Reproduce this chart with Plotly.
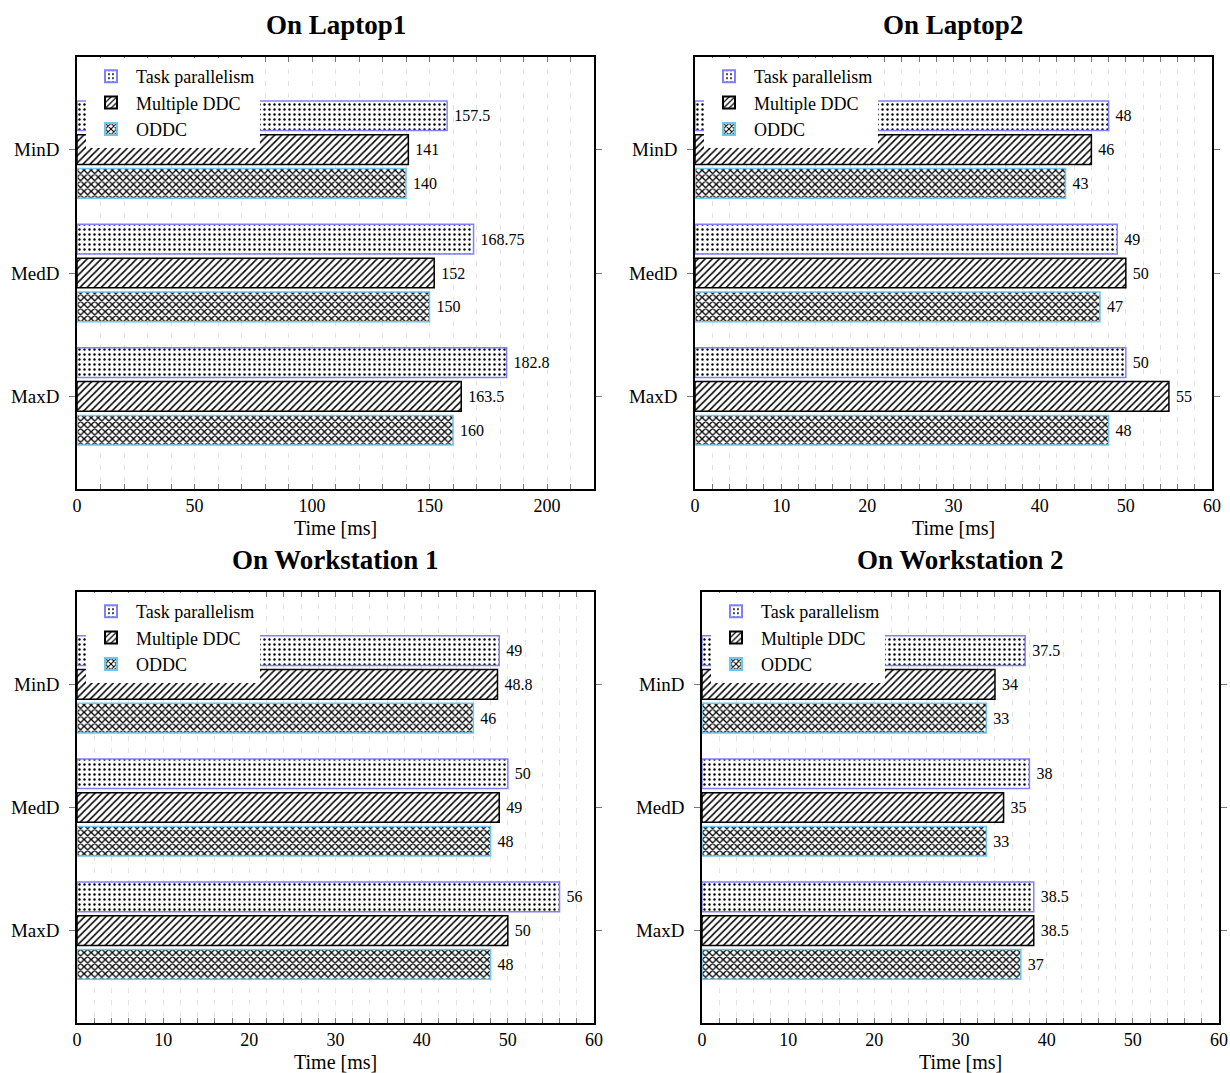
import plotly.graph_objects as go

categories = ["MinD", "MedD", "MaxD"]
series_names = ["Task parallelism", "Multiple DDC", "ODDC"]

titles = ["On Laptop1", "On Laptop2", "On Workstation 1", "On Workstation 2"]

laptop1_tp = [157.5, 168.75, 182.8]
laptop1_mddc = [141, 152, 163.5]
laptop1_oddc = [140, 150, 160]

laptop2_tp = [48, 49, 50]
laptop2_mddc = [46, 50, 55]
laptop2_oddc = [43, 47, 48]

ws1_tp = [49, 50, 56]
ws1_mddc = [48.8, 49, 50]
ws1_oddc = [46, 48, 48]

ws2_tp = [37.5, 38, 38.5]
ws2_mddc = [34, 35, 38.5]
ws2_oddc = [33, 33, 37]

panels = [
    (laptop1_tp, laptop1_mddc, laptop1_oddc),
    (laptop2_tp, laptop2_mddc, laptop2_oddc),
    (ws1_tp, ws1_mddc, ws1_oddc),
    (ws2_tp, ws2_mddc, ws2_oddc),
]
x_ranges = [[0, 220], [0, 60], [0, 60], [0, 60]]
x_dticks = [50, 10, 10, 10]
x_minor = [10, 2, 2, 2]

W, H = 1230, 1073
FONT = "Liberation Serif, serif"

# window-pixel boxes of the plot areas (left, right, top, bottom)
boxes = [(77, 594, 57, 489), (695, 1212, 57, 489), (77, 594, 592, 1023), (702, 1219, 592, 1023)]

styles = [
    dict(shape=".", size=5, solidity=0.18, line="#8080ff"),
    dict(shape="/", size=5, solidity=0.3, line="#000000"),
    dict(shape="x", size=5, solidity=0.45, line="#6cc6ee"),
]


def px(xp):
    return xp / W


def py(yp):
    return 1 - yp / H


fig = go.Figure()
annotations = []
for i, vals in enumerate(panels):
    sfx = "" if i == 0 else str(i + 1)
    leg = "legend" + sfx
    for j, v in enumerate(vals):
        st = styles[j]
        fig.add_trace(go.Bar(
            x=v, y=categories, orientation="h", name=series_names[j],
            xaxis="x" + sfx, yaxis="y" + sfx, legend=leg,
            marker=dict(color="white",
                        line=dict(color=st["line"], width=1.5),
                        pattern=dict(shape=st["shape"], size=st["size"], solidity=st["solidity"],
                                     fgcolor="black", fgopacity=1, bgcolor="white")),
            texttemplate=" %{x}", textposition="outside",
            textfont=dict(family=FONT, size=16, color="black"),
            constraintext="none", cliponaxis=False,
        ))
    l, r, t, b = boxes[i]
    fig.layout["xaxis" + sfx] = dict(
        domain=[px(l), px(r)], anchor="y" + sfx, range=x_ranges[i], dtick=x_dticks[i], tick0=0,
        automargin=False,
        ticks="inside", ticklen=5, tickcolor="#777", tickwidth=1,
        minor=dict(dtick=x_minor[i], ticks="inside", ticklen=5, tickcolor="#777",
                   showgrid=True, gridcolor="#e3e3e3", griddash="5px,7px", gridwidth=1),
        showgrid=True, gridcolor="#e3e3e3", griddash="5px,7px", gridwidth=1,
        showline=True, linecolor="black", linewidth=1.5, mirror="ticks",
        zeroline=False, tickfont=dict(family=FONT, size=18, color="black"),
    )
    fig.layout["yaxis" + sfx] = dict(
        domain=[py(b), py(t)], anchor="x" + sfx, type="category", categoryorder="array",
        categoryarray=categories, range=[2.75, -0.75], automargin=False,
        ticks="outside", ticklen=6, tickcolor="#777", showgrid=False, ticklabelstandoff=6,
        showline=True, linecolor="black", linewidth=1.5, mirror="ticks",
        zeroline=False, tickfont=dict(family=FONT, size=19, color="black"),
    )
    fig.layout[leg] = dict(
        x=px(l + 9), y=py(t + 1), xanchor="left", yanchor="top",
        xref="paper", yref="paper", bgcolor="white", borderwidth=0,
        font=dict(family=FONT, size=18, color="black"),
        tracegroupgap=0, itemsizing="constant", itemwidth=40,
    )
    cx = px((l + r) / 2)
    annotations.append(dict(text="<b>" + titles[i] + "</b>", x=cx, y=py(t - 32),
                            xref="paper", yref="paper", showarrow=False,
                            xanchor="center", yanchor="middle",
                            font=dict(family=FONT, size=27, color="black")))
    annotations.append(dict(text="Time [ms]", x=cx, y=py(b + 39),
                            xref="paper", yref="paper", showarrow=False,
                            xanchor="center", yanchor="middle",
                            font=dict(family=FONT, size=20, color="black")))

fig.update_layout(
    width=W, height=H, margin=dict(l=0, r=0, t=0, b=0, autoexpand=False),
    paper_bgcolor="white", plot_bgcolor="white",
    barmode="group", bargap=0.178, bargroupgap=0.124,
    annotations=annotations, showlegend=True,
    font=dict(family=FONT, color="black"),
)

fig.write_html(
    "out.html",
    config={"displayModeBar": False},
    post_script="document.body.style.margin='0';document.body.style.overflow='hidden';",
)
